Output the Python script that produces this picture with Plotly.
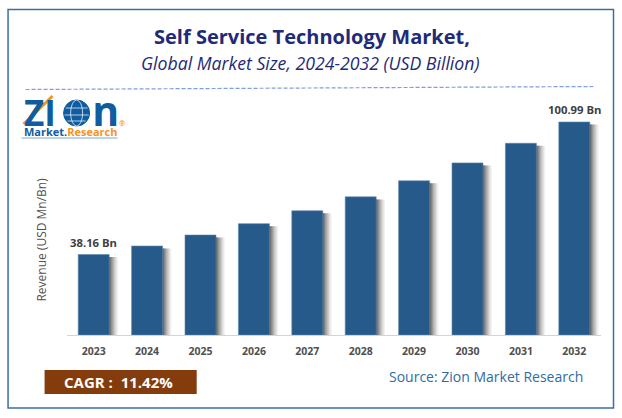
import plotly.graph_objects as go

years = ["2023","2024","2025","2026","2027","2028","2029","2030","2031","2032"]
revenue = [38.16,42.2,47.4,52.8,58.9,65.5,73.1,81.6,90.9,100.99]
bar_labels = ["38.16 Bn","","","","","","","","","100.99 Bn"]
title_main = "Self Service Technology Market,"
title_sub = "Global Market Size, 2024-2032 (USD Billion)"
y_title = "Revenue (USD Mn/Bn)"
cagr = "CAGR :  11.42%"
source = "Source: Zion Market Research"

W, H = 622, 418
L, R, T, B = 67.4, 601.0, 100.0, 335.0
FONT = "Open Sans"

def px(x): return (x - L) / (R - L)
def py(y): return (B - y) / (B - T)

fig = go.Figure()

# soft shadow to the right of every bar
BW = 0.58
for off, op in [(0.165, 0.07), (0.14, 0.09), (0.115, 0.12), (0.09, 0.16), (0.065, 0.22), (0.04, 0.28), (0.02, 0.34)]:
    fig.add_trace(go.Bar(x=years, y=[v - 1.2 for v in revenue], width=BW, offset=-BW/2 + off,
                         marker=dict(color=f"rgba(60,60,60,{op})", line_width=0),
                         hoverinfo="skip", showlegend=False))

fig.add_trace(go.Bar(x=years, y=revenue, width=BW, offset=-BW/2,
                     marker=dict(color="#255A8A", line=dict(color="#5F86A8", width=0.6)),
                     showlegend=False))

# data labels sit a little above the bars (category axis: positions are category indexes)
for i, (val, lab) in enumerate(zip(revenue, bar_labels)):
    if lab:
        fig.add_annotation(x=i, y=val, text=lab, showarrow=False, yshift=12.5, xanchor="center", yanchor="middle",
                           font=dict(family=FONT, size=11.3, color="#404040", weight="bold"))

def ann(x, y, text, size, color, bold=False, italic=False, anchor="center", family=FONT, angle=0):
    fig.add_annotation(x=px(x), y=py(y), xref="paper", yref="paper", text=text, showarrow=False,
                       xanchor=anchor, yanchor="middle", textangle=angle,
                       font=dict(family=family, size=size, color=color,
                                 weight="bold" if bold else "normal",
                                 style="italic" if italic else "normal"))

def rect(x0, y0, x1, y1, **kw):
    fig.add_shape(type="rect", xref="paper", yref="paper", x0=px(x0), x1=px(x1), y0=py(y0), y1=py(y1), **kw)

def line(x0, y0, x1, y1, **kw):
    fig.add_shape(type="line", xref="paper", yref="paper", x0=px(x0), x1=px(x1), y0=py(y0), y1=py(y1), **kw)

# frame
rect(8.5, 9.5, 613.5, 408, line=dict(color="#3C6EA5", width=1.5), fillcolor="rgba(0,0,0,0)")
# dashed separator
line(26, 89.5, 595, 86.5, line=dict(color="#7F9FDC", width=1.2, dash="4px,2px"))

# titles
ann(312, 36, title_main, 20, "#1F2A78", bold=True)
ann(311, 63, title_sub, 17.7, "#1F2A78", italic=True)
ann(41, 240, y_title, 12, "#505050", angle=-90)

# logo
BLUE, ORANGE = "#0F5CA0", "#F7941D"
fig.add_shape(type="circle", xref="paper", yref="paper", x0=px(64), x1=px(90), y0=py(126), y1=py(100),
              fillcolor=BLUE, line=dict(color=BLUE, width=1))
for x0, y0, x1, y1 in [(66,108,88,108),(65,115,89,115),(68,121,86,121)]:
    line(x0, y0, x1, y1, line=dict(color="white", width=0.7))
fig.add_shape(type="circle", xref="paper", yref="paper", x0=px(71), x1=px(83), y0=py(126), y1=py(100),
              line=dict(color="white", width=0.7))
logo = (f"<span style='font-size:35px;color:{BLUE}'>ZI\u00a0\u00a0\u00a0\u00a0</span>"
        f"<span style='font-size:41px;color:{BLUE}'>n</span>"
        f"<span style='font-size:7px;color:{ORANGE}'>®</span><br>"
        f"<span style='font-size:11px;color:{BLUE}'>Market.</span>"
        f"<span style='font-size:11px;color:{ORANGE}'>Research</span>")
fig.add_annotation(x=px(22), y=py(111), xref="paper", yref="paper", text=logo, showarrow=False,
                   xanchor="left", yanchor="middle", align="left",
                   font=dict(family=FONT, size=8, color=BLUE, weight="bold"))
line(24, 124, 53, 96, line=dict(color=ORANGE, width=3))
line(22, 138, 118, 138, line=dict(color="#7FA8D0", width=1))

# CAGR box and source
rect(45, 370, 197, 394, fillcolor="#843C0C", line_width=0)
ann(119, 382, cagr, 15, "white", bold=True)
ann(486, 376, source, 14, "#2E6DA4")

fig.update_layout(
    width=W, height=H, barmode="overlay", plot_bgcolor="white", paper_bgcolor="white",
    margin=dict(l=L, r=W - R, t=T, b=H - B, pad=0), showlegend=False, font=dict(family=FONT),
    xaxis=dict(type="category", range=[-0.5, 9.5], showgrid=False, ticks="", showline=True, linecolor="#D4D4D4", linewidth=1.2,
               tickfont=dict(family=FONT, size=10.5, color="#505050", weight="bold"), ticklabelstandoff=6),
    yaxis=dict(range=[0, (B - T) / (213 / 100.99)], visible=False),
)
fig.write_html("out.html", post_script="document.body.style.margin='0';", config=dict(displayModeBar=False))
